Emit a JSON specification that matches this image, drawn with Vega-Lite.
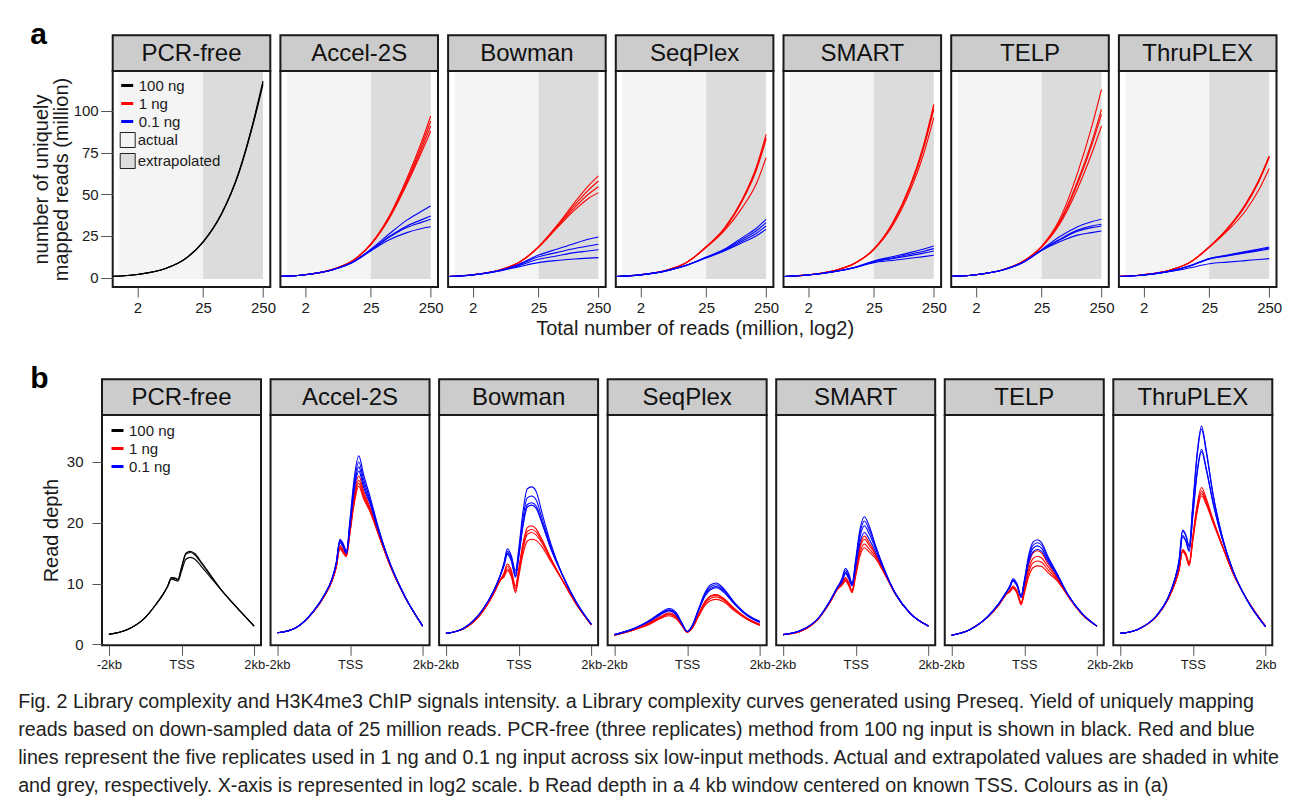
{
"$schema": "https://vega.github.io/schema/vega-lite/v6.json",
"background": "white",
"padding": {"left": 18, "top": 20, "right": 4, "bottom": 4},
"title": {"text": ["Fig. 2 Library complexity and H3K4me3 ChIP signals intensity. a Library complexity curves generated using Preseq. Yield of uniquely mapping", "reads based on down-sampled data of 25 million reads. PCR-free (three replicates) method from 100 ng input is shown in black. Red and blue", "lines represent the five replicates used in 1 ng and 0.1 ng input across six low-input methods. Actual and extrapolated values are shaded in white", "and grey, respectively. X-axis is represented in log2 scale. b Read depth in a 4 kb window centered on known TSS. Colours as in (a)"], "orient": "bottom", "anchor": "start", "frame": "bounds", "dx": -12, "offset": 20, "fontSize": 19.7, "fontWeight": "normal", "lineHeight": 28, "color": "#222", "font": "Liberation Sans"},
"spacing": 25,
"vconcat": [
{
"title": {"text": "a", "anchor": "start", "frame": "bounds", "fontSize": 30, "fontWeight": "bold", "offset": -17, "color": "#000"},
"bounds": "flush",
"spacing": 9.7,
"resolve": {"scale": {"color": "independent", "fill": "independent"}, "legend": {"color": "independent", "fill": "independent"}},
"hconcat": [
{"width": 0.01, "height": 216, "view": {"stroke": null}, "data": {"values": []}, "mark": "point"},
{"width": 157.6, "height": 216, "layer": [
 {"data": {"values": [{"g": "100"}, {"g": "1"}, {"g": "0.1"}]}, "mark": {"type": "rule"},
  "encoding": {"x": {"datum": 16, "type": "quantitative", "scale": {"type": "log", "base": 2, "domain": [0.774, 331], "nice": false}, "axis": {"title": null}}, "x2": {"datum": 16}, "y": {"datum": 50, "type": "quantitative", "scale": {"domain": [-5.64, 124], "nice": false, "zero": false}, "axis": {"title": ["number of uniquely", "mapped reads (million)"]}}, "y2": {"datum": 50},
   "color": {"field": "g", "type": "nominal", "scale": {"domain": ["100", "1", "0.1"], "range": ["#000000", "#ff0000", "#0000ff"]}, "legend": {"title": null, "orient": "top-left", "offset": 7, "symbolType": "stroke", "symbolSize": 144, "symbolStrokeWidth": 3, "labelExpr": "datum.label + ' ng'", "labelFontSize": 15, "rowPadding": 2, "labelOffset": 4}}}},
 {"data": {"values": [{"region": "actual", "a": 1, "b": 25}, {"region": "extrapolated", "a": 25, "b": 250}]}, "mark": "rect",
  "encoding": {"x": {"field": "a", "type": "quantitative", "scale": {"type": "log", "base": 2, "domain": [0.774, 331], "nice": false}, "axis": {"title": null}}, "x2": {"field": "b"}, "y": {"datum": -0.8, "type": "quantitative", "scale": {"domain": [-5.64, 124], "nice": false, "zero": false}, "axis": {"title": ["number of uniquely", "mapped reads (million)"]}}, "y2": {"datum": 124}, "fill": {"field": "region", "type": "nominal", "scale": {"domain": ["actual", "extrapolated"], "range": ["#f4f4f4", "#dcdcdc"]}, "legend": {"title": null, "orient": "top-left", "offset": 7, "symbolType": "square", "symbolSize": 225, "symbolStrokeColor": "#222", "symbolStrokeWidth": 1, "labelFontSize": 15, "rowPadding": 1, "labelOffset": 2}}}},
 {"data": {"values": [{"t": "PCR-free"}]}, "mark": {"type": "rect", "fill": "#cccccc", "stroke": "#1a1a1a", "strokeWidth": 2},
  "encoding": {"x": {"datum": 0.774, "type": "quantitative", "scale": {"type": "log", "base": 2, "domain": [0.774, 331], "nice": false}, "axis": {"title": null}}, "x2": {"datum": 331}, "y": {"datum": 124, "type": "quantitative", "scale": {"domain": [-5.64, 124], "nice": false, "zero": false}, "axis": {"title": ["number of uniquely", "mapped reads (million)"]}}, "y2": {"datum": 145.4}}},
 {"data": {"values": [{"t": "PCR-free"}]}, "mark": {"type": "text", "fontSize": 24, "baseline": "middle", "color": "#111"},
  "encoding": {"x": {"datum": 16, "type": "quantitative", "scale": {"type": "log", "base": 2, "domain": [0.774, 331], "nice": false}, "axis": {"title": null}}, "y": {"datum": 134.4, "type": "quantitative", "scale": {"domain": [-5.64, 124], "nice": false, "zero": false}, "axis": {"title": ["number of uniquely", "mapped reads (million)"]}}, "text": {"field": "t"}}},
 {"data": {"values": "g,r,x,y\n100,1,0.8,0.76\n100,1,2,1.9\n100,1,6,5.6\n100,1,12,10.8\n100,1,25,21.5\n100,1,50,38\n100,1,100,64\n100,1,170,93\n100,1,250,118\n100,2,0.8,0.76\n100,2,2,1.9\n100,2,6,5.6\n100,2,12,10.8\n100,2,25,21.4\n100,2,50,37.8\n100,2,100,63.6\n100,2,170,92.3\n100,2,250,117\n100,3,0.8,0.75\n100,3,2,1.9\n100,3,6,5.5\n100,3,12,10.7\n100,3,25,21.3\n100,3,50,37.6\n100,3,100,63.2\n100,3,170,91.6\n100,3,250,116", "format": {"type": "csv", "parse": {"x": "number", "y": "number"}}},
  "mark": {"type": "line", "strokeWidth": 1.1, "interpolate": "monotone"},
  "encoding": {"x": {"field": "x", "type": "quantitative", "scale": {"type": "log", "base": 2, "domain": [0.774, 331], "nice": false}, "axis": {"values": [2, 25, 250], "format": "d", "title": null, "tickSize": 10, "labelPadding": 3}},
   "y": {"field": "y", "type": "quantitative", "scale": {"domain": [-5.64, 124], "nice": false, "zero": false}, "axis": {"values": [0, 25, 50, 75, 100], "title": ["number of uniquely", "mapped reads (million)"], "tickSize": 12, "labelPadding": 2.5, "titlePadding": 2, "titleLineHeight": 20}},
   "color": {"field": "g", "type": "nominal", "scale": {"domain": ["100", "1", "0.1"], "range": ["#000000", "#ff0000", "#0000ff"]}},
   "detail": {"field": "r"}}}
]},
{"width": 157.6, "height": 216, "layer": [
 {"data": {"values": [{"region": "actual", "a": 1, "b": 25}, {"region": "extrapolated", "a": 25, "b": 250}]}, "mark": "rect",
  "encoding": {"x": {"field": "a", "type": "quantitative", "scale": {"type": "log", "base": 2, "domain": [0.774, 331], "nice": false}, "axis": {"title": null}}, "x2": {"field": "b"}, "y": {"datum": -0.8, "type": "quantitative", "scale": {"domain": [-5.64, 124], "nice": false, "zero": false}, "axis": null}, "y2": {"datum": 124}, "fill": {"field": "region", "type": "nominal", "scale": {"domain": ["actual", "extrapolated"], "range": ["#f4f4f4", "#dcdcdc"]}, "legend": null}}},
 {"data": {"values": [{"t": "Accel-2S"}]}, "mark": {"type": "rect", "fill": "#cccccc", "stroke": "#1a1a1a", "strokeWidth": 2},
  "encoding": {"x": {"datum": 0.774, "type": "quantitative", "scale": {"type": "log", "base": 2, "domain": [0.774, 331], "nice": false}, "axis": {"title": null}}, "x2": {"datum": 331}, "y": {"datum": 124, "type": "quantitative", "scale": {"domain": [-5.64, 124], "nice": false, "zero": false}, "axis": null}, "y2": {"datum": 145.4}}},
 {"data": {"values": [{"t": "Accel-2S"}]}, "mark": {"type": "text", "fontSize": 24, "baseline": "middle", "color": "#111"},
  "encoding": {"x": {"datum": 16, "type": "quantitative", "scale": {"type": "log", "base": 2, "domain": [0.774, 331], "nice": false}, "axis": {"title": null}}, "y": {"datum": 134.4, "type": "quantitative", "scale": {"domain": [-5.64, 124], "nice": false, "zero": false}, "axis": null}, "text": {"field": "t"}}},
 {"data": {"values": "g,r,x,y\n1,1,0.8,0.72\n1,1,2,1.75\n1,1,6,5.1\n1,1,12,9.8\n1,1,25,20.2\n1,1,50,36.5\n1,1,100,59.5\n1,1,170,80\n1,1,250,97\n1,2,0.8,0.72\n1,2,2,1.75\n1,2,6,5.1\n1,2,12,9.8\n1,2,25,20\n1,2,50,36\n1,2,100,58\n1,2,170,78\n1,2,250,94\n1,3,0.8,0.72\n1,3,2,1.75\n1,3,6,5.1\n1,3,12,9.8\n1,3,25,19.9\n1,3,50,35.5\n1,3,100,57\n1,3,170,76\n1,3,250,91\n1,4,0.8,0.72\n1,4,2,1.75\n1,4,6,5.1\n1,4,12,9.7\n1,4,25,19.7\n1,4,50,35\n1,4,100,56\n1,4,170,74\n1,4,250,88\n0.1,1,0.8,0.72\n0.1,1,2,1.72\n0.1,1,6,4.9\n0.1,1,12,9\n0.1,1,25,17\n0.1,1,50,26\n0.1,1,100,34.5\n0.1,1,170,39.5\n0.1,1,250,43\n0.1,2,0.8,0.72\n0.1,2,2,1.72\n0.1,2,6,4.9\n0.1,2,12,9\n0.1,2,25,16.6\n0.1,2,50,24.5\n0.1,2,100,31\n0.1,2,170,34.5\n0.1,2,250,37\n0.1,3,0.8,0.72\n0.1,3,2,1.72\n0.1,3,6,4.9\n0.1,3,12,8.9\n0.1,3,25,16.4\n0.1,3,50,24\n0.1,3,100,30\n0.1,3,170,33\n0.1,3,250,35\n0.1,4,0.8,0.72\n0.1,4,2,1.72\n0.1,4,6,4.9\n0.1,4,12,8.8\n0.1,4,25,16\n0.1,4,50,22.5\n0.1,4,100,27\n0.1,4,170,29.3\n0.1,4,250,30.5", "format": {"type": "csv", "parse": {"x": "number", "y": "number"}}},
  "mark": {"type": "line", "strokeWidth": 1.1, "interpolate": "monotone"},
  "encoding": {"x": {"field": "x", "type": "quantitative", "scale": {"type": "log", "base": 2, "domain": [0.774, 331], "nice": false}, "axis": {"values": [2, 25, 250], "format": "d", "title": null, "tickSize": 10, "labelPadding": 3}},
   "y": {"field": "y", "type": "quantitative", "scale": {"domain": [-5.64, 124], "nice": false, "zero": false}, "axis": null},
   "color": {"field": "g", "type": "nominal", "scale": {"domain": ["100", "1", "0.1"], "range": ["#000000", "#ff0000", "#0000ff"]}, "legend": null},
   "detail": {"field": "r"}}}
]},
{"width": 157.6, "height": 216, "layer": [
 {"data": {"values": [{"region": "actual", "a": 1, "b": 25}, {"region": "extrapolated", "a": 25, "b": 250}]}, "mark": "rect",
  "encoding": {"x": {"field": "a", "type": "quantitative", "scale": {"type": "log", "base": 2, "domain": [0.774, 331], "nice": false}, "axis": {"title": null}}, "x2": {"field": "b"}, "y": {"datum": -0.8, "type": "quantitative", "scale": {"domain": [-5.64, 124], "nice": false, "zero": false}, "axis": null}, "y2": {"datum": 124}, "fill": {"field": "region", "type": "nominal", "scale": {"domain": ["actual", "extrapolated"], "range": ["#f4f4f4", "#dcdcdc"]}, "legend": null}}},
 {"data": {"values": [{"t": "Bowman"}]}, "mark": {"type": "rect", "fill": "#cccccc", "stroke": "#1a1a1a", "strokeWidth": 2},
  "encoding": {"x": {"datum": 0.774, "type": "quantitative", "scale": {"type": "log", "base": 2, "domain": [0.774, 331], "nice": false}, "axis": {"title": null}}, "x2": {"datum": 331}, "y": {"datum": 124, "type": "quantitative", "scale": {"domain": [-5.64, 124], "nice": false, "zero": false}, "axis": null}, "y2": {"datum": 145.4}}},
 {"data": {"values": [{"t": "Bowman"}]}, "mark": {"type": "text", "fontSize": 24, "baseline": "middle", "color": "#111"},
  "encoding": {"x": {"datum": 16, "type": "quantitative", "scale": {"type": "log", "base": 2, "domain": [0.774, 331], "nice": false}, "axis": {"title": null}}, "y": {"datum": 134.4, "type": "quantitative", "scale": {"domain": [-5.64, 124], "nice": false, "zero": false}, "axis": null}, "text": {"field": "t"}}},
 {"data": {"values": "g,r,x,y\n1,1,0.8,0.7\n1,1,2,1.7\n1,1,6,4.9\n1,1,12,9.3\n1,1,25,18.6\n1,1,50,31\n1,1,100,45\n1,1,170,55\n1,1,250,61\n1,2,0.8,0.7\n1,2,2,1.7\n1,2,6,4.9\n1,2,12,9.3\n1,2,25,18.4\n1,2,50,30.5\n1,2,100,43.5\n1,2,170,52.5\n1,2,250,58\n1,3,0.8,0.7\n1,3,2,1.7\n1,3,6,4.9\n1,3,12,9.2\n1,3,25,18.3\n1,3,50,30\n1,3,100,42\n1,3,170,50\n1,3,250,54.5\n1,4,0.8,0.7\n1,4,2,1.7\n1,4,6,4.9\n1,4,12,9.2\n1,4,25,18.1\n1,4,50,29.5\n1,4,100,40.5\n1,4,170,47.5\n1,4,250,51\n0.1,1,0.8,0.7\n0.1,1,2,1.65\n0.1,1,6,4.6\n0.1,1,12,8.2\n0.1,1,25,13.5\n0.1,1,50,17\n0.1,1,100,20.5\n0.1,1,170,23\n0.1,1,250,24.4\n0.1,2,0.8,0.7\n0.1,2,2,1.65\n0.1,2,6,4.5\n0.1,2,12,7.8\n0.1,2,25,12.5\n0.1,2,50,15\n0.1,2,100,17.5\n0.1,2,170,19\n0.1,2,250,20\n0.1,3,0.8,0.7\n0.1,3,2,1.6\n0.1,3,6,4.4\n0.1,3,12,7.3\n0.1,3,25,11\n0.1,3,50,13\n0.1,3,100,15\n0.1,3,170,16\n0.1,3,250,16.8\n0.1,4,0.8,0.7\n0.1,4,2,1.6\n0.1,4,6,4.2\n0.1,4,12,6.6\n0.1,4,25,9\n0.1,4,50,10.3\n0.1,4,100,11.2\n0.1,4,170,11.7\n0.1,4,250,12", "format": {"type": "csv", "parse": {"x": "number", "y": "number"}}},
  "mark": {"type": "line", "strokeWidth": 1.1, "interpolate": "monotone"},
  "encoding": {"x": {"field": "x", "type": "quantitative", "scale": {"type": "log", "base": 2, "domain": [0.774, 331], "nice": false}, "axis": {"values": [2, 25, 250], "format": "d", "title": null, "tickSize": 10, "labelPadding": 3}},
   "y": {"field": "y", "type": "quantitative", "scale": {"domain": [-5.64, 124], "nice": false, "zero": false}, "axis": null},
   "color": {"field": "g", "type": "nominal", "scale": {"domain": ["100", "1", "0.1"], "range": ["#000000", "#ff0000", "#0000ff"]}, "legend": null},
   "detail": {"field": "r"}}}
]},
{"width": 157.6, "height": 216, "layer": [
 {"data": {"values": [{"region": "actual", "a": 1, "b": 25}, {"region": "extrapolated", "a": 25, "b": 250}]}, "mark": "rect",
  "encoding": {"x": {"field": "a", "type": "quantitative", "scale": {"type": "log", "base": 2, "domain": [0.774, 331], "nice": false}, "axis": {"title": "Total number of reads (million, log2)"}}, "x2": {"field": "b"}, "y": {"datum": -0.8, "type": "quantitative", "scale": {"domain": [-5.64, 124], "nice": false, "zero": false}, "axis": null}, "y2": {"datum": 124}, "fill": {"field": "region", "type": "nominal", "scale": {"domain": ["actual", "extrapolated"], "range": ["#f4f4f4", "#dcdcdc"]}, "legend": null}}},
 {"data": {"values": [{"t": "SeqPlex"}]}, "mark": {"type": "rect", "fill": "#cccccc", "stroke": "#1a1a1a", "strokeWidth": 2},
  "encoding": {"x": {"datum": 0.774, "type": "quantitative", "scale": {"type": "log", "base": 2, "domain": [0.774, 331], "nice": false}, "axis": {"title": "Total number of reads (million, log2)"}}, "x2": {"datum": 331}, "y": {"datum": 124, "type": "quantitative", "scale": {"domain": [-5.64, 124], "nice": false, "zero": false}, "axis": null}, "y2": {"datum": 145.4}}},
 {"data": {"values": [{"t": "SeqPlex"}]}, "mark": {"type": "text", "fontSize": 24, "baseline": "middle", "color": "#111"},
  "encoding": {"x": {"datum": 16, "type": "quantitative", "scale": {"type": "log", "base": 2, "domain": [0.774, 331], "nice": false}, "axis": {"title": "Total number of reads (million, log2)"}}, "y": {"datum": 134.4, "type": "quantitative", "scale": {"domain": [-5.64, 124], "nice": false, "zero": false}, "axis": null}, "text": {"field": "t"}}},
 {"data": {"values": "g,r,x,y\n1,1,0.8,0.7\n1,1,2,1.7\n1,1,6,4.9\n1,1,12,9.3\n1,1,25,18.5\n1,1,50,29.5\n1,1,100,47\n1,1,170,66\n1,1,250,86\n1,2,0.8,0.7\n1,2,2,1.7\n1,2,6,4.9\n1,2,12,9.3\n1,2,25,18.4\n1,2,50,29.2\n1,2,100,46.5\n1,2,170,65\n1,2,250,84\n1,3,0.8,0.7\n1,3,2,1.7\n1,3,6,4.9\n1,3,12,9.3\n1,3,25,18.4\n1,3,50,29\n1,3,100,46\n1,3,170,64\n1,3,250,83\n1,4,0.8,0.7\n1,4,2,1.7\n1,4,6,4.9\n1,4,12,9.2\n1,4,25,18.1\n1,4,50,28\n1,4,100,42\n1,4,170,56\n1,4,250,72\n0.1,1,0.8,0.7\n0.1,1,2,1.65\n0.1,1,6,4.5\n0.1,1,12,7.6\n0.1,1,25,12.3\n0.1,1,50,17\n0.1,1,100,24\n0.1,1,170,29.5\n0.1,1,250,35\n0.1,2,0.8,0.7\n0.1,2,2,1.65\n0.1,2,6,4.5\n0.1,2,12,7.6\n0.1,2,25,12.1\n0.1,2,50,16.6\n0.1,2,100,23\n0.1,2,170,28\n0.1,2,250,33\n0.1,3,0.8,0.7\n0.1,3,2,1.65\n0.1,3,6,4.5\n0.1,3,12,7.5\n0.1,3,25,12\n0.1,3,50,16.3\n0.1,3,100,22\n0.1,3,170,26.5\n0.1,3,250,31\n0.1,4,0.8,0.7\n0.1,4,2,1.65\n0.1,4,6,4.5\n0.1,4,12,7.5\n0.1,4,25,11.8\n0.1,4,50,16\n0.1,4,100,21\n0.1,4,170,25\n0.1,4,250,29", "format": {"type": "csv", "parse": {"x": "number", "y": "number"}}},
  "mark": {"type": "line", "strokeWidth": 1.1, "interpolate": "monotone"},
  "encoding": {"x": {"field": "x", "type": "quantitative", "scale": {"type": "log", "base": 2, "domain": [0.774, 331], "nice": false}, "axis": {"values": [2, 25, 250], "format": "d", "title": "Total number of reads (million, log2)", "titlePadding": 3, "tickSize": 10, "labelPadding": 3}},
   "y": {"field": "y", "type": "quantitative", "scale": {"domain": [-5.64, 124], "nice": false, "zero": false}, "axis": null},
   "color": {"field": "g", "type": "nominal", "scale": {"domain": ["100", "1", "0.1"], "range": ["#000000", "#ff0000", "#0000ff"]}, "legend": null},
   "detail": {"field": "r"}}}
]},
{"width": 157.6, "height": 216, "layer": [
 {"data": {"values": [{"region": "actual", "a": 1, "b": 25}, {"region": "extrapolated", "a": 25, "b": 250}]}, "mark": "rect",
  "encoding": {"x": {"field": "a", "type": "quantitative", "scale": {"type": "log", "base": 2, "domain": [0.774, 331], "nice": false}, "axis": {"title": null}}, "x2": {"field": "b"}, "y": {"datum": -0.8, "type": "quantitative", "scale": {"domain": [-5.64, 124], "nice": false, "zero": false}, "axis": null}, "y2": {"datum": 124}, "fill": {"field": "region", "type": "nominal", "scale": {"domain": ["actual", "extrapolated"], "range": ["#f4f4f4", "#dcdcdc"]}, "legend": null}}},
 {"data": {"values": [{"t": "SMART"}]}, "mark": {"type": "rect", "fill": "#cccccc", "stroke": "#1a1a1a", "strokeWidth": 2},
  "encoding": {"x": {"datum": 0.774, "type": "quantitative", "scale": {"type": "log", "base": 2, "domain": [0.774, 331], "nice": false}, "axis": {"title": null}}, "x2": {"datum": 331}, "y": {"datum": 124, "type": "quantitative", "scale": {"domain": [-5.64, 124], "nice": false, "zero": false}, "axis": null}, "y2": {"datum": 145.4}}},
 {"data": {"values": [{"t": "SMART"}]}, "mark": {"type": "text", "fontSize": 24, "baseline": "middle", "color": "#111"},
  "encoding": {"x": {"datum": 16, "type": "quantitative", "scale": {"type": "log", "base": 2, "domain": [0.774, 331], "nice": false}, "axis": {"title": null}}, "y": {"datum": 134.4, "type": "quantitative", "scale": {"domain": [-5.64, 124], "nice": false, "zero": false}, "axis": null}, "text": {"field": "t"}}},
 {"data": {"values": "g,r,x,y\n1,1,0.8,0.7\n1,1,2,1.65\n1,1,6,4.6\n1,1,12,8.6\n1,1,25,17.2\n1,1,50,32\n1,1,100,55\n1,1,170,80\n1,1,250,104\n1,2,0.8,0.7\n1,2,2,1.65\n1,2,6,4.6\n1,2,12,8.6\n1,2,25,17.1\n1,2,50,32\n1,2,100,54.5\n1,2,170,79\n1,2,250,103\n1,3,0.8,0.7\n1,3,2,1.65\n1,3,6,4.6\n1,3,12,8.6\n1,3,25,17\n1,3,50,31.5\n1,3,100,54\n1,3,170,78\n1,3,250,101\n1,4,0.8,0.7\n1,4,2,1.65\n1,4,6,4.6\n1,4,12,8.5\n1,4,25,16.8\n1,4,50,30.5\n1,4,100,52\n1,4,170,74.5\n1,4,250,96\n0.1,1,0.8,0.68\n0.1,1,2,1.55\n0.1,1,6,3.9\n0.1,1,12,6.2\n0.1,1,25,10\n0.1,1,50,12.5\n0.1,1,100,15\n0.1,1,170,17.2\n0.1,1,250,19\n0.1,2,0.8,0.68\n0.1,2,2,1.55\n0.1,2,6,3.9\n0.1,2,12,6.1\n0.1,2,25,9.7\n0.1,2,50,11.8\n0.1,2,100,14\n0.1,2,170,15.8\n0.1,2,250,17.4\n0.1,3,0.8,0.68\n0.1,3,2,1.55\n0.1,3,6,3.9\n0.1,3,12,6.1\n0.1,3,25,9.5\n0.1,3,50,11.3\n0.1,3,100,13.2\n0.1,3,170,14.7\n0.1,3,250,16\n0.1,4,0.8,0.68\n0.1,4,2,1.55\n0.1,4,6,3.8\n0.1,4,12,6\n0.1,4,25,9\n0.1,4,50,10.3\n0.1,4,100,11.6\n0.1,4,170,12.6\n0.1,4,250,13.4", "format": {"type": "csv", "parse": {"x": "number", "y": "number"}}},
  "mark": {"type": "line", "strokeWidth": 1.1, "interpolate": "monotone"},
  "encoding": {"x": {"field": "x", "type": "quantitative", "scale": {"type": "log", "base": 2, "domain": [0.774, 331], "nice": false}, "axis": {"values": [2, 25, 250], "format": "d", "title": null, "tickSize": 10, "labelPadding": 3}},
   "y": {"field": "y", "type": "quantitative", "scale": {"domain": [-5.64, 124], "nice": false, "zero": false}, "axis": null},
   "color": {"field": "g", "type": "nominal", "scale": {"domain": ["100", "1", "0.1"], "range": ["#000000", "#ff0000", "#0000ff"]}, "legend": null},
   "detail": {"field": "r"}}}
]},
{"width": 157.6, "height": 216, "layer": [
 {"data": {"values": [{"region": "actual", "a": 1, "b": 25}, {"region": "extrapolated", "a": 25, "b": 250}]}, "mark": "rect",
  "encoding": {"x": {"field": "a", "type": "quantitative", "scale": {"type": "log", "base": 2, "domain": [0.774, 331], "nice": false}, "axis": {"title": null}}, "x2": {"field": "b"}, "y": {"datum": -0.8, "type": "quantitative", "scale": {"domain": [-5.64, 124], "nice": false, "zero": false}, "axis": null}, "y2": {"datum": 124}, "fill": {"field": "region", "type": "nominal", "scale": {"domain": ["actual", "extrapolated"], "range": ["#f4f4f4", "#dcdcdc"]}, "legend": null}}},
 {"data": {"values": [{"t": "TELP"}]}, "mark": {"type": "rect", "fill": "#cccccc", "stroke": "#1a1a1a", "strokeWidth": 2},
  "encoding": {"x": {"datum": 0.774, "type": "quantitative", "scale": {"type": "log", "base": 2, "domain": [0.774, 331], "nice": false}, "axis": {"title": null}}, "x2": {"datum": 331}, "y": {"datum": 124, "type": "quantitative", "scale": {"domain": [-5.64, 124], "nice": false, "zero": false}, "axis": null}, "y2": {"datum": 145.4}}},
 {"data": {"values": [{"t": "TELP"}]}, "mark": {"type": "text", "fontSize": 24, "baseline": "middle", "color": "#111"},
  "encoding": {"x": {"datum": 16, "type": "quantitative", "scale": {"type": "log", "base": 2, "domain": [0.774, 331], "nice": false}, "axis": {"title": null}}, "y": {"datum": 134.4, "type": "quantitative", "scale": {"domain": [-5.64, 124], "nice": false, "zero": false}, "axis": null}, "text": {"field": "t"}}},
 {"data": {"values": "g,r,x,y\n1,1,0.8,0.72\n1,1,2,1.75\n1,1,6,5\n1,1,12,9.6\n1,1,25,18.8\n1,1,50,35\n1,1,100,63\n1,1,170,90\n1,1,250,113\n1,2,0.8,0.72\n1,2,2,1.75\n1,2,6,5\n1,2,12,9.6\n1,2,25,18.6\n1,2,50,33.5\n1,2,100,58\n1,2,170,81\n1,2,250,101\n1,3,0.8,0.72\n1,3,2,1.75\n1,3,6,5\n1,3,12,9.6\n1,3,25,18.5\n1,3,50,33\n1,3,100,56.5\n1,3,170,79\n1,3,250,98\n1,4,0.8,0.72\n1,4,2,1.75\n1,4,6,5\n1,4,12,9.5\n1,4,25,18.3\n1,4,50,32\n1,4,100,53.5\n1,4,170,74\n1,4,250,91\n0.1,1,0.8,0.72\n0.1,1,2,1.72\n0.1,1,6,4.9\n0.1,1,12,9\n0.1,1,25,16.8\n0.1,1,50,24.5\n0.1,1,100,30.5\n0.1,1,170,33.5\n0.1,1,250,35\n0.1,2,0.8,0.72\n0.1,2,2,1.72\n0.1,2,6,4.9\n0.1,2,12,9\n0.1,2,25,16.5\n0.1,2,50,23\n0.1,2,100,28.5\n0.1,2,170,31\n0.1,2,250,32\n0.1,3,0.8,0.72\n0.1,3,2,1.72\n0.1,3,6,4.9\n0.1,3,12,8.9\n0.1,3,25,16.4\n0.1,3,50,22.5\n0.1,3,100,27.8\n0.1,3,170,30\n0.1,3,250,31\n0.1,4,0.8,0.72\n0.1,4,2,1.72\n0.1,4,6,4.9\n0.1,4,12,8.9\n0.1,4,25,16.2\n0.1,4,50,21.5\n0.1,4,100,25.5\n0.1,4,170,27\n0.1,4,250,28", "format": {"type": "csv", "parse": {"x": "number", "y": "number"}}},
  "mark": {"type": "line", "strokeWidth": 1.1, "interpolate": "monotone"},
  "encoding": {"x": {"field": "x", "type": "quantitative", "scale": {"type": "log", "base": 2, "domain": [0.774, 331], "nice": false}, "axis": {"values": [2, 25, 250], "format": "d", "title": null, "tickSize": 10, "labelPadding": 3}},
   "y": {"field": "y", "type": "quantitative", "scale": {"domain": [-5.64, 124], "nice": false, "zero": false}, "axis": null},
   "color": {"field": "g", "type": "nominal", "scale": {"domain": ["100", "1", "0.1"], "range": ["#000000", "#ff0000", "#0000ff"]}, "legend": null},
   "detail": {"field": "r"}}}
]},
{"width": 157.6, "height": 216, "layer": [
 {"data": {"values": [{"region": "actual", "a": 1, "b": 25}, {"region": "extrapolated", "a": 25, "b": 250}]}, "mark": "rect",
  "encoding": {"x": {"field": "a", "type": "quantitative", "scale": {"type": "log", "base": 2, "domain": [0.774, 331], "nice": false}, "axis": {"title": null}}, "x2": {"field": "b"}, "y": {"datum": -0.8, "type": "quantitative", "scale": {"domain": [-5.64, 124], "nice": false, "zero": false}, "axis": null}, "y2": {"datum": 124}, "fill": {"field": "region", "type": "nominal", "scale": {"domain": ["actual", "extrapolated"], "range": ["#f4f4f4", "#dcdcdc"]}, "legend": null}}},
 {"data": {"values": [{"t": "ThruPLEX"}]}, "mark": {"type": "rect", "fill": "#cccccc", "stroke": "#1a1a1a", "strokeWidth": 2},
  "encoding": {"x": {"datum": 0.774, "type": "quantitative", "scale": {"type": "log", "base": 2, "domain": [0.774, 331], "nice": false}, "axis": {"title": null}}, "x2": {"datum": 331}, "y": {"datum": 124, "type": "quantitative", "scale": {"domain": [-5.64, 124], "nice": false, "zero": false}, "axis": null}, "y2": {"datum": 145.4}}},
 {"data": {"values": [{"t": "ThruPLEX"}]}, "mark": {"type": "text", "fontSize": 24, "baseline": "middle", "color": "#111"},
  "encoding": {"x": {"datum": 16, "type": "quantitative", "scale": {"type": "log", "base": 2, "domain": [0.774, 331], "nice": false}, "axis": {"title": null}}, "y": {"datum": 134.4, "type": "quantitative", "scale": {"domain": [-5.64, 124], "nice": false, "zero": false}, "axis": null}, "text": {"field": "t"}}},
 {"data": {"values": "g,r,x,y\n1,1,0.8,0.72\n1,1,2,1.72\n1,1,6,4.9\n1,1,12,9.3\n1,1,25,18.5\n1,1,50,29.5\n1,1,100,44\n1,1,170,59\n1,1,250,73\n1,2,0.8,0.72\n1,2,2,1.72\n1,2,6,4.9\n1,2,12,9.3\n1,2,25,18.4\n1,2,50,29.2\n1,2,100,43.5\n1,2,170,58.5\n1,2,250,72.5\n1,3,0.8,0.72\n1,3,2,1.72\n1,3,6,4.9\n1,3,12,9.3\n1,3,25,18.4\n1,3,50,29\n1,3,100,43\n1,3,170,58\n1,3,250,72\n1,4,0.8,0.72\n1,4,2,1.72\n1,4,6,4.9\n1,4,12,9.2\n1,4,25,18.2\n1,4,50,28\n1,4,100,40\n1,4,170,53\n1,4,250,65.5\n0.1,1,0.8,0.7\n0.1,1,2,1.6\n0.1,1,6,4.2\n0.1,1,12,7.2\n0.1,1,25,11.5\n0.1,1,50,13.6\n0.1,1,100,15.6\n0.1,1,170,17.2\n0.1,1,250,18.4\n0.1,2,0.8,0.7\n0.1,2,2,1.6\n0.1,2,6,4.2\n0.1,2,12,7.1\n0.1,2,25,11.3\n0.1,2,50,13.3\n0.1,2,100,15.2\n0.1,2,170,16.7\n0.1,2,250,17.8\n0.1,3,0.8,0.7\n0.1,3,2,1.6\n0.1,3,6,4.2\n0.1,3,12,7\n0.1,3,25,11.1\n0.1,3,50,13\n0.1,3,100,14.8\n0.1,3,170,16.2\n0.1,3,250,17.2\n0.1,4,0.8,0.68\n0.1,4,2,1.55\n0.1,4,6,3.8\n0.1,4,12,5.9\n0.1,4,25,8.3\n0.1,4,50,9.3\n0.1,4,100,10.2\n0.1,4,170,10.9\n0.1,4,250,11.4", "format": {"type": "csv", "parse": {"x": "number", "y": "number"}}},
  "mark": {"type": "line", "strokeWidth": 1.1, "interpolate": "monotone"},
  "encoding": {"x": {"field": "x", "type": "quantitative", "scale": {"type": "log", "base": 2, "domain": [0.774, 331], "nice": false}, "axis": {"values": [2, 25, 250], "format": "d", "title": null, "tickSize": 10, "labelPadding": 3}},
   "y": {"field": "y", "type": "quantitative", "scale": {"domain": [-5.64, 124], "nice": false, "zero": false}, "axis": null},
   "color": {"field": "g", "type": "nominal", "scale": {"domain": ["100", "1", "0.1"], "range": ["#000000", "#ff0000", "#0000ff"]}, "legend": null},
   "detail": {"field": "r"}}}
]}
]
},
{
"title": {"text": "b", "anchor": "start", "frame": "bounds", "fontSize": 30, "fontWeight": "bold", "offset": -17, "dx": -10, "color": "#000"},
"bounds": "flush",
"spacing": 9.55,
"resolve": {"scale": {"color": "independent"}, "legend": {"color": "independent"}},
"hconcat": [
{"width": 159, "height": 230.3, "layer": [
 {"data": {"values": [{"t": "PCR-free"}]}, "mark": {"type": "rect", "fill": "#cccccc", "stroke": "#1a1a1a", "strokeWidth": 2},
  "encoding": {"x": {"datum": -2188, "type": "quantitative", "scale": {"domain": [-2188, 2188], "nice": false, "zero": false}, "axis": {"title": null}}, "x2": {"datum": 2188}, "y": {"datum": 37.73, "type": "quantitative", "scale": {"domain": [-0.16, 37.73], "nice": false, "zero": false}, "axis": {"title": "Read depth"}}, "y2": {"datum": 43.6}}},
 {"data": {"values": [{"t": "PCR-free"}]}, "mark": {"type": "text", "fontSize": 24, "baseline": "middle", "color": "#111"},
  "encoding": {"x": {"datum": 0, "type": "quantitative", "scale": {"domain": [-2188, 2188], "nice": false, "zero": false}, "axis": {"title": null}}, "y": {"datum": 40.56, "type": "quantitative", "scale": {"domain": [-0.16, 37.73], "nice": false, "zero": false}, "axis": {"title": "Read depth"}}, "text": {"field": "t"}}},
 {"data": {"values": "g,r,x,y\n100,1,-2000,1.65\n100,1,-1500,2.4\n100,1,-1000,4.4\n100,1,-700,6.6\n100,1,-500,8.3\n100,1,-380,9.6\n100,1,-280,11\n100,1,-190,10.95\n100,1,-100,10.7\n100,1,0,12.7\n100,1,120,15\n100,1,240,15.3\n100,1,370,14.9\n100,1,550,13.5\n100,1,800,11.4\n100,1,1100,8.9\n100,1,1500,6.2\n100,1,2000,3\n100,2,-2000,1.65\n100,2,-1500,2.4\n100,2,-1000,4.4\n100,2,-700,6.6\n100,2,-500,8.3\n100,2,-380,9.6\n100,2,-280,10.9\n100,2,-190,10.85\n100,2,-100,10.6\n100,2,0,12.5\n100,2,120,14.8\n100,2,240,15.1\n100,2,370,14.7\n100,2,550,13.3\n100,2,800,11.3\n100,2,1100,8.9\n100,2,1500,6.2\n100,2,2000,3\n100,3,-2000,1.65\n100,3,-1500,2.4\n100,3,-1000,4.4\n100,3,-700,6.6\n100,3,-500,8.3\n100,3,-380,9.5\n100,3,-280,10.7\n100,3,-190,10.6\n100,3,-100,10.4\n100,3,0,12\n100,3,120,14\n100,3,240,14.3\n100,3,370,14\n100,3,550,12.8\n100,3,800,11\n100,3,1100,8.9\n100,3,1500,6.2\n100,3,2000,3", "format": {"type": "csv", "parse": {"x": "number", "y": "number"}}},
  "mark": {"type": "line", "strokeWidth": 1.1, "interpolate": "monotone"},
  "encoding": {"x": {"field": "x", "type": "quantitative", "scale": {"domain": [-2188, 2188], "nice": false, "zero": false}, "axis": {"values": [-2000, 0, 2000], "labelExpr": "datum.value == 0 ? 'TSS' : (datum.value < 0 ? '-2kb' : '2kb')", "title": null, "tickSize": 10, "labelPadding": 3, "labelFontSize": 13}},
   "y": {"field": "y", "type": "quantitative", "scale": {"domain": [-0.16, 37.73], "nice": false, "zero": false}, "axis": {"values": [0, 10, 20, 30], "title": "Read depth", "tickSize": 10, "labelPadding": 9, "titlePadding": 5}},
   "color": {"field": "g", "type": "nominal", "scale": {"domain": ["100", "1", "0.1"], "range": ["#000000", "#ff0000", "#0000ff"]}, "legend": {"title": null, "orient": "top-left", "offset": 8, "symbolType": "stroke", "symbolSize": 144, "symbolStrokeWidth": 3, "labelExpr": "datum.label + ' ng'", "labelFontSize": 15, "rowPadding": 2, "labelOffset": 4}},
   "detail": {"field": "r"}}}
]},
{"width": 159, "height": 230.3, "layer": [
 {"data": {"values": [{"t": "Accel-2S"}]}, "mark": {"type": "rect", "fill": "#cccccc", "stroke": "#1a1a1a", "strokeWidth": 2},
  "encoding": {"x": {"datum": -2188, "type": "quantitative", "scale": {"domain": [-2188, 2188], "nice": false, "zero": false}, "axis": {"title": null}}, "x2": {"datum": 2188}, "y": {"datum": 37.73, "type": "quantitative", "scale": {"domain": [-0.16, 37.73], "nice": false, "zero": false}, "axis": null}, "y2": {"datum": 43.6}}},
 {"data": {"values": [{"t": "Accel-2S"}]}, "mark": {"type": "text", "fontSize": 24, "baseline": "middle", "color": "#111"},
  "encoding": {"x": {"datum": 0, "type": "quantitative", "scale": {"domain": [-2188, 2188], "nice": false, "zero": false}, "axis": {"title": null}}, "y": {"datum": 40.56, "type": "quantitative", "scale": {"domain": [-0.16, 37.73], "nice": false, "zero": false}, "axis": null}, "text": {"field": "t"}}},
 {"data": {"values": "g,r,x,y\n1,1,-2000,1.9\n1,1,-1500,2.7\n1,1,-1000,5.4\n1,1,-700,8\n1,1,-500,10.4\n1,1,-380,12.9\n1,1,-280,16.3\n1,1,-190,15.6\n1,1,-100,14.9\n1,1,0,19.2\n1,1,120,24.8\n1,1,240,27.7\n1,1,370,25.3\n1,1,550,22.5\n1,1,800,18\n1,1,1100,13\n1,1,1500,7.9\n1,1,2000,3\n1,2,-2000,1.9\n1,2,-1500,2.7\n1,2,-1000,5.4\n1,2,-700,8\n1,2,-500,10.4\n1,2,-380,12.8\n1,2,-280,16.1\n1,2,-190,15.4\n1,2,-100,14.7\n1,2,0,18.9\n1,2,120,24.2\n1,2,240,27\n1,2,370,24.8\n1,2,550,22.2\n1,2,800,17.9\n1,2,1100,13\n1,2,1500,7.9\n1,2,2000,3\n1,3,-2000,1.9\n1,3,-1500,2.7\n1,3,-1000,5.4\n1,3,-700,8\n1,3,-500,10.4\n1,3,-380,12.7\n1,3,-280,15.9\n1,3,-190,15.2\n1,3,-100,14.6\n1,3,0,18.6\n1,3,120,23.8\n1,3,240,26.5\n1,3,370,24.4\n1,3,550,22\n1,3,800,17.8\n1,3,1100,13\n1,3,1500,7.9\n1,3,2000,3\n1,4,-2000,1.9\n1,4,-1500,2.7\n1,4,-1000,5.4\n1,4,-700,8\n1,4,-500,10.4\n1,4,-380,12.6\n1,4,-280,15.7\n1,4,-190,15\n1,4,-100,14.4\n1,4,0,18.3\n1,4,120,23.3\n1,4,240,26\n1,4,370,24\n1,4,550,21.8\n1,4,800,17.7\n1,4,1100,13\n1,4,1500,7.9\n1,4,2000,3\n0.1,1,-2000,1.9\n0.1,1,-1500,2.7\n0.1,1,-1000,5.5\n0.1,1,-700,8.2\n0.1,1,-500,10.7\n0.1,1,-380,13.5\n0.1,1,-280,17.3\n0.1,1,-190,16.6\n0.1,1,-100,15.4\n0.1,1,0,20.7\n0.1,1,120,27.6\n0.1,1,240,31\n0.1,1,370,28\n0.1,1,550,24.3\n0.1,1,800,18.8\n0.1,1,1100,13.3\n0.1,1,1500,8\n0.1,1,2000,3\n0.1,2,-2000,1.9\n0.1,2,-1500,2.7\n0.1,2,-1000,5.5\n0.1,2,-700,8.2\n0.1,2,-500,10.7\n0.1,2,-380,13.4\n0.1,2,-280,17.1\n0.1,2,-190,16.4\n0.1,2,-100,15.2\n0.1,2,0,20.2\n0.1,2,120,26.8\n0.1,2,240,30\n0.1,2,370,27.2\n0.1,2,550,23.8\n0.1,2,800,18.6\n0.1,2,1100,13.3\n0.1,2,1500,8\n0.1,2,2000,3\n0.1,3,-2000,1.9\n0.1,3,-1500,2.7\n0.1,3,-1000,5.5\n0.1,3,-700,8.2\n0.1,3,-500,10.7\n0.1,3,-380,13.3\n0.1,3,-280,16.9\n0.1,3,-190,16.2\n0.1,3,-100,15\n0.1,3,0,19.8\n0.1,3,120,26.1\n0.1,3,240,29.2\n0.1,3,370,26.5\n0.1,3,550,23.4\n0.1,3,800,18.4\n0.1,3,1100,13.3\n0.1,3,1500,8\n0.1,3,2000,3\n0.1,4,-2000,1.9\n0.1,4,-1500,2.7\n0.1,4,-1000,5.5\n0.1,4,-700,8.2\n0.1,4,-500,10.7\n0.1,4,-380,13.2\n0.1,4,-280,16.7\n0.1,4,-190,16\n0.1,4,-100,14.9\n0.1,4,0,19.5\n0.1,4,120,25.5\n0.1,4,240,28.5\n0.1,4,370,25.9\n0.1,4,550,23.1\n0.1,4,800,18.3\n0.1,4,1100,13.3\n0.1,4,1500,8\n0.1,4,2000,3", "format": {"type": "csv", "parse": {"x": "number", "y": "number"}}},
  "mark": {"type": "line", "strokeWidth": 1.1, "interpolate": "monotone"},
  "encoding": {"x": {"field": "x", "type": "quantitative", "scale": {"domain": [-2188, 2188], "nice": false, "zero": false}, "axis": {"values": [-2000, 0, 2000], "labelExpr": "datum.value == 0 ? 'TSS' : (datum.value < 0 ? '-2kb' : '2kb')", "title": null, "tickSize": 10, "labelPadding": 3, "labelFontSize": 13}},
   "y": {"field": "y", "type": "quantitative", "scale": {"domain": [-0.16, 37.73], "nice": false, "zero": false}, "axis": null},
   "color": {"field": "g", "type": "nominal", "scale": {"domain": ["100", "1", "0.1"], "range": ["#000000", "#ff0000", "#0000ff"]}, "legend": null},
   "detail": {"field": "r"}}}
]},
{"width": 159, "height": 230.3, "layer": [
 {"data": {"values": [{"t": "Bowman"}]}, "mark": {"type": "rect", "fill": "#cccccc", "stroke": "#1a1a1a", "strokeWidth": 2},
  "encoding": {"x": {"datum": -2188, "type": "quantitative", "scale": {"domain": [-2188, 2188], "nice": false, "zero": false}, "axis": {"title": null}}, "x2": {"datum": 2188}, "y": {"datum": 37.73, "type": "quantitative", "scale": {"domain": [-0.16, 37.73], "nice": false, "zero": false}, "axis": null}, "y2": {"datum": 43.6}}},
 {"data": {"values": [{"t": "Bowman"}]}, "mark": {"type": "text", "fontSize": 24, "baseline": "middle", "color": "#111"},
  "encoding": {"x": {"datum": 0, "type": "quantitative", "scale": {"domain": [-2188, 2188], "nice": false, "zero": false}, "axis": {"title": null}}, "y": {"datum": 40.56, "type": "quantitative", "scale": {"domain": [-0.16, 37.73], "nice": false, "zero": false}, "axis": null}, "text": {"field": "t"}}},
 {"data": {"values": "g,r,x,y\n1,1,-2000,1.8\n1,1,-1500,2.6\n1,1,-1000,5.3\n1,1,-700,8.2\n1,1,-500,10.6\n1,1,-400,11.8\n1,1,-310,13.2\n1,1,-200,12.2\n1,1,-85,9.6\n1,1,0,12.3\n1,1,120,16.6\n1,1,240,19.2\n1,1,360,19.5\n1,1,480,19\n1,1,650,17.2\n1,1,900,14\n1,1,1200,10.6\n1,1,1600,6.5\n1,1,2000,3.2\n1,2,-2000,1.8\n1,2,-1500,2.6\n1,2,-1000,5.3\n1,2,-700,8.2\n1,2,-500,10.6\n1,2,-400,11.5\n1,2,-310,12.8\n1,2,-200,11.8\n1,2,-85,9.2\n1,2,0,11.9\n1,2,120,16.1\n1,2,240,18.6\n1,2,360,18.9\n1,2,480,18.5\n1,2,650,16.9\n1,2,900,13.9\n1,2,1200,10.6\n1,2,1600,6.5\n1,2,2000,3.2\n1,3,-2000,1.8\n1,3,-1500,2.6\n1,3,-1000,5.3\n1,3,-700,8.2\n1,3,-500,10.6\n1,3,-400,11.3\n1,3,-310,12.4\n1,3,-200,11.4\n1,3,-85,8.8\n1,3,0,11.5\n1,3,120,15.6\n1,3,240,18.1\n1,3,360,18.4\n1,3,480,18\n1,3,650,16.6\n1,3,900,13.8\n1,3,1200,10.6\n1,3,1600,6.5\n1,3,2000,3.2\n1,4,-2000,1.8\n1,4,-1500,2.6\n1,4,-1000,5.3\n1,4,-700,8.2\n1,4,-500,10.6\n1,4,-400,11.1\n1,4,-310,12.1\n1,4,-200,11.1\n1,4,-85,8.5\n1,4,0,11\n1,4,120,14.8\n1,4,240,17\n1,4,360,17.3\n1,4,480,17.1\n1,4,650,16\n1,4,900,13.5\n1,4,1200,10.6\n1,4,1600,6.5\n1,4,2000,3.2\n0.1,1,-2000,1.8\n0.1,1,-1500,2.7\n0.1,1,-1000,5.6\n0.1,1,-700,8.6\n0.1,1,-500,11.4\n0.1,1,-400,13.5\n0.1,1,-310,15.7\n0.1,1,-200,14.6\n0.1,1,-85,12.1\n0.1,1,0,15.5\n0.1,1,120,21.8\n0.1,1,240,25.6\n0.1,1,360,25.9\n0.1,1,480,25.2\n0.1,1,650,21.5\n0.1,1,900,16.3\n0.1,1,1200,11.5\n0.1,1,1600,6.8\n0.1,1,2000,3.3\n0.1,2,-2000,1.8\n0.1,2,-1500,2.7\n0.1,2,-1000,5.6\n0.1,2,-700,8.6\n0.1,2,-500,11.4\n0.1,2,-400,13.3\n0.1,2,-310,15.3\n0.1,2,-200,14.2\n0.1,2,-85,11.7\n0.1,2,0,14.9\n0.1,2,120,20.7\n0.1,2,240,24.1\n0.1,2,360,24.4\n0.1,2,480,23.8\n0.1,2,650,20.6\n0.1,2,900,15.9\n0.1,2,1200,11.5\n0.1,2,1600,6.8\n0.1,2,2000,3.3\n0.1,3,-2000,1.8\n0.1,3,-1500,2.7\n0.1,3,-1000,5.6\n0.1,3,-700,8.6\n0.1,3,-500,11.4\n0.1,3,-400,13.1\n0.1,3,-310,15\n0.1,3,-200,13.9\n0.1,3,-85,11.3\n0.1,3,0,14.4\n0.1,3,120,19.8\n0.1,3,240,23\n0.1,3,360,23.3\n0.1,3,480,22.8\n0.1,3,650,20\n0.1,3,900,15.6\n0.1,3,1200,11.5\n0.1,3,1600,6.8\n0.1,3,2000,3.3\n0.1,4,-2000,1.8\n0.1,4,-1500,2.7\n0.1,4,-1000,5.6\n0.1,4,-700,8.6\n0.1,4,-500,11.4\n0.1,4,-400,12.9\n0.1,4,-310,14.8\n0.1,4,-200,13.7\n0.1,4,-85,11\n0.1,4,0,14.1\n0.1,4,120,19.4\n0.1,4,240,22.6\n0.1,4,360,22.9\n0.1,4,480,22.4\n0.1,4,650,19.8\n0.1,4,900,15.5\n0.1,4,1200,11.5\n0.1,4,1600,6.8\n0.1,4,2000,3.3", "format": {"type": "csv", "parse": {"x": "number", "y": "number"}}},
  "mark": {"type": "line", "strokeWidth": 1.1, "interpolate": "monotone"},
  "encoding": {"x": {"field": "x", "type": "quantitative", "scale": {"domain": [-2188, 2188], "nice": false, "zero": false}, "axis": {"values": [-2000, 0, 2000], "labelExpr": "datum.value == 0 ? 'TSS' : (datum.value < 0 ? '-2kb' : '2kb')", "title": null, "tickSize": 10, "labelPadding": 3, "labelFontSize": 13}},
   "y": {"field": "y", "type": "quantitative", "scale": {"domain": [-0.16, 37.73], "nice": false, "zero": false}, "axis": null},
   "color": {"field": "g", "type": "nominal", "scale": {"domain": ["100", "1", "0.1"], "range": ["#000000", "#ff0000", "#0000ff"]}, "legend": null},
   "detail": {"field": "r"}}}
]},
{"width": 159, "height": 230.3, "layer": [
 {"data": {"values": [{"t": "SeqPlex"}]}, "mark": {"type": "rect", "fill": "#cccccc", "stroke": "#1a1a1a", "strokeWidth": 2},
  "encoding": {"x": {"datum": -2188, "type": "quantitative", "scale": {"domain": [-2188, 2188], "nice": false, "zero": false}, "axis": {"title": null}}, "x2": {"datum": 2188}, "y": {"datum": 37.73, "type": "quantitative", "scale": {"domain": [-0.16, 37.73], "nice": false, "zero": false}, "axis": null}, "y2": {"datum": 43.6}}},
 {"data": {"values": [{"t": "SeqPlex"}]}, "mark": {"type": "text", "fontSize": 24, "baseline": "middle", "color": "#111"},
  "encoding": {"x": {"datum": 0, "type": "quantitative", "scale": {"domain": [-2188, 2188], "nice": false, "zero": false}, "axis": {"title": null}}, "y": {"datum": 40.56, "type": "quantitative", "scale": {"domain": [-0.16, 37.73], "nice": false, "zero": false}, "axis": null}, "text": {"field": "t"}}},
 {"data": {"values": "g,r,x,y\n1,1,-2000,1.5\n1,1,-1500,2.3\n1,1,-1000,3.7\n1,1,-750,4.5\n1,1,-500,5.2\n1,1,-300,4.6\n1,1,-150,3.3\n1,1,0,2\n1,1,150,2.9\n1,1,300,4.8\n1,1,500,7.1\n1,1,650,8\n1,1,800,8.2\n1,1,1000,7.6\n1,1,1300,5.9\n1,1,1650,4.3\n1,1,2000,3.3\n1,2,-2000,1.5\n1,2,-1500,2.3\n1,2,-1000,3.6\n1,2,-750,4.4\n1,2,-500,5\n1,2,-300,4.5\n1,2,-150,3.2\n1,2,0,2\n1,2,150,2.9\n1,2,300,4.7\n1,2,500,7\n1,2,650,7.9\n1,2,800,8.1\n1,2,1000,7.5\n1,2,1300,5.8\n1,2,1650,4.2\n1,2,2000,3.2\n1,3,-2000,1.5\n1,3,-1500,2.3\n1,3,-1000,3.5\n1,3,-750,4.3\n1,3,-500,4.9\n1,3,-300,4.4\n1,3,-150,3.2\n1,3,0,2\n1,3,150,2.8\n1,3,300,4.6\n1,3,500,6.8\n1,3,650,7.6\n1,3,800,7.8\n1,3,1000,7.3\n1,3,1300,5.7\n1,3,1650,4.2\n1,3,2000,3.2\n1,4,-2000,1.5\n1,4,-1500,2.3\n1,4,-1000,3.4\n1,4,-750,4.2\n1,4,-500,4.7\n1,4,-300,4.2\n1,4,-150,3.1\n1,4,0,2\n1,4,150,2.7\n1,4,300,4.4\n1,4,500,6.5\n1,4,650,7.2\n1,4,800,7.4\n1,4,1000,7\n1,4,1300,5.5\n1,4,1650,4.1\n1,4,2000,3.1\n0.1,1,-2000,1.6\n0.1,1,-1500,2.5\n0.1,1,-1000,4.1\n0.1,1,-750,5.1\n0.1,1,-500,5.9\n0.1,1,-300,5.2\n0.1,1,-150,3.6\n0.1,1,0,2.1\n0.1,1,150,3.2\n0.1,1,300,5.6\n0.1,1,500,8.6\n0.1,1,650,9.8\n0.1,1,800,10.1\n0.1,1,1000,9.2\n0.1,1,1300,6.9\n0.1,1,1650,4.9\n0.1,1,2000,3.8\n0.1,2,-2000,1.6\n0.1,2,-1500,2.5\n0.1,2,-1000,4\n0.1,2,-750,5\n0.1,2,-500,5.7\n0.1,2,-300,5\n0.1,2,-150,3.5\n0.1,2,0,2.1\n0.1,2,150,3.2\n0.1,2,300,5.5\n0.1,2,500,8.4\n0.1,2,650,9.5\n0.1,2,800,9.8\n0.1,2,1000,9\n0.1,2,1300,6.8\n0.1,2,1650,4.8\n0.1,2,2000,3.7\n0.1,3,-2000,1.6\n0.1,3,-1500,2.5\n0.1,3,-1000,3.9\n0.1,3,-750,4.9\n0.1,3,-500,5.6\n0.1,3,-300,4.9\n0.1,3,-150,3.5\n0.1,3,0,2.1\n0.1,3,150,3.1\n0.1,3,300,5.4\n0.1,3,500,8.2\n0.1,3,650,9.2\n0.1,3,800,9.5\n0.1,3,1000,8.8\n0.1,3,1300,6.7\n0.1,3,1650,4.8\n0.1,3,2000,3.7\n0.1,4,-2000,1.6\n0.1,4,-1500,2.5\n0.1,4,-1000,3.9\n0.1,4,-750,4.8\n0.1,4,-500,5.5\n0.1,4,-300,4.8\n0.1,4,-150,3.4\n0.1,4,0,2.1\n0.1,4,150,3.1\n0.1,4,300,5.3\n0.1,4,500,8\n0.1,4,650,9\n0.1,4,800,9.3\n0.1,4,1000,8.6\n0.1,4,1300,6.6\n0.1,4,1650,4.7\n0.1,4,2000,3.6", "format": {"type": "csv", "parse": {"x": "number", "y": "number"}}},
  "mark": {"type": "line", "strokeWidth": 1.1, "interpolate": "monotone"},
  "encoding": {"x": {"field": "x", "type": "quantitative", "scale": {"domain": [-2188, 2188], "nice": false, "zero": false}, "axis": {"values": [-2000, 0, 2000], "labelExpr": "datum.value == 0 ? 'TSS' : (datum.value < 0 ? '-2kb' : '2kb')", "title": null, "tickSize": 10, "labelPadding": 3, "labelFontSize": 13}},
   "y": {"field": "y", "type": "quantitative", "scale": {"domain": [-0.16, 37.73], "nice": false, "zero": false}, "axis": null},
   "color": {"field": "g", "type": "nominal", "scale": {"domain": ["100", "1", "0.1"], "range": ["#000000", "#ff0000", "#0000ff"]}, "legend": null},
   "detail": {"field": "r"}}}
]},
{"width": 159, "height": 230.3, "layer": [
 {"data": {"values": [{"t": "SMART"}]}, "mark": {"type": "rect", "fill": "#cccccc", "stroke": "#1a1a1a", "strokeWidth": 2},
  "encoding": {"x": {"datum": -2188, "type": "quantitative", "scale": {"domain": [-2188, 2188], "nice": false, "zero": false}, "axis": {"title": null}}, "x2": {"datum": 2188}, "y": {"datum": 37.73, "type": "quantitative", "scale": {"domain": [-0.16, 37.73], "nice": false, "zero": false}, "axis": null}, "y2": {"datum": 43.6}}},
 {"data": {"values": [{"t": "SMART"}]}, "mark": {"type": "text", "fontSize": 24, "baseline": "middle", "color": "#111"},
  "encoding": {"x": {"datum": 0, "type": "quantitative", "scale": {"domain": [-2188, 2188], "nice": false, "zero": false}, "axis": {"title": null}}, "y": {"datum": 40.56, "type": "quantitative", "scale": {"domain": [-0.16, 37.73], "nice": false, "zero": false}, "axis": null}, "text": {"field": "t"}}},
 {"data": {"values": "g,r,x,y\n1,1,-2000,1.6\n1,1,-1500,2.2\n1,1,-1000,4.4\n1,1,-700,7\n1,1,-500,9.1\n1,1,-380,10\n1,1,-280,11\n1,1,-190,10.2\n1,1,-100,8.8\n1,1,0,12.2\n1,1,120,16.2\n1,1,240,17.8\n1,1,370,16.7\n1,1,550,14.9\n1,1,800,11.8\n1,1,1100,8.2\n1,1,1500,5.1\n1,1,2000,3\n1,2,-2000,1.6\n1,2,-1500,2.2\n1,2,-1000,4.4\n1,2,-700,7\n1,2,-500,9.1\n1,2,-380,9.9\n1,2,-280,10.8\n1,2,-190,10\n1,2,-100,8.7\n1,2,0,11.9\n1,2,120,15.8\n1,2,240,17.3\n1,2,370,16.3\n1,2,550,14.7\n1,2,800,11.7\n1,2,1100,8.2\n1,2,1500,5.1\n1,2,2000,3\n1,3,-2000,1.6\n1,3,-1500,2.2\n1,3,-1000,4.4\n1,3,-700,7\n1,3,-500,9.1\n1,3,-380,9.8\n1,3,-280,10.6\n1,3,-190,9.8\n1,3,-100,8.6\n1,3,0,11.5\n1,3,120,15.1\n1,3,240,16.5\n1,3,370,15.7\n1,3,550,14.4\n1,3,800,11.6\n1,3,1100,8.2\n1,3,1500,5.1\n1,3,2000,3\n1,4,-2000,1.6\n1,4,-1500,2.2\n1,4,-1000,4.4\n1,4,-700,7\n1,4,-500,9.1\n1,4,-380,9.7\n1,4,-280,10.4\n1,4,-190,9.6\n1,4,-100,8.5\n1,4,0,11.2\n1,4,120,14.6\n1,4,240,15.9\n1,4,370,15.2\n1,4,550,14.1\n1,4,800,11.5\n1,4,1100,8.2\n1,4,1500,5.1\n1,4,2000,3\n0.1,1,-2000,1.6\n0.1,1,-1500,2.3\n0.1,1,-1000,4.5\n0.1,1,-700,7.2\n0.1,1,-500,9.4\n0.1,1,-380,10.8\n0.1,1,-280,12.5\n0.1,1,-190,11.6\n0.1,1,-100,10.1\n0.1,1,0,14\n0.1,1,120,19\n0.1,1,240,21\n0.1,1,370,19.5\n0.1,1,550,16.2\n0.1,1,800,12.2\n0.1,1,1100,8.3\n0.1,1,1500,5.1\n0.1,1,2000,3\n0.1,2,-2000,1.6\n0.1,2,-1500,2.3\n0.1,2,-1000,4.5\n0.1,2,-700,7.2\n0.1,2,-500,9.4\n0.1,2,-380,10.6\n0.1,2,-280,12.1\n0.1,2,-190,11.3\n0.1,2,-100,9.9\n0.1,2,0,13.6\n0.1,2,120,18.4\n0.1,2,240,20.3\n0.1,2,370,18.9\n0.1,2,550,16\n0.1,2,800,12.1\n0.1,2,1100,8.3\n0.1,2,1500,5.1\n0.1,2,2000,3\n0.1,3,-2000,1.6\n0.1,3,-1500,2.3\n0.1,3,-1000,4.5\n0.1,3,-700,7.2\n0.1,3,-500,9.4\n0.1,3,-380,10.4\n0.1,3,-280,11.8\n0.1,3,-190,11\n0.1,3,-100,9.7\n0.1,3,0,13.2\n0.1,3,120,17.7\n0.1,3,240,19.5\n0.1,3,370,18.2\n0.1,3,550,15.7\n0.1,3,800,12\n0.1,3,1100,8.3\n0.1,3,1500,5.1\n0.1,3,2000,3\n0.1,4,-2000,1.6\n0.1,4,-1500,2.3\n0.1,4,-1000,4.5\n0.1,4,-700,7.2\n0.1,4,-500,9.4\n0.1,4,-380,10.2\n0.1,4,-280,11.6\n0.1,4,-190,10.8\n0.1,4,-100,9.6\n0.1,4,0,12.7\n0.1,4,120,16.8\n0.1,4,240,18.4\n0.1,4,370,17.3\n0.1,4,550,15.2\n0.1,4,800,11.9\n0.1,4,1100,8.3\n0.1,4,1500,5.1\n0.1,4,2000,3", "format": {"type": "csv", "parse": {"x": "number", "y": "number"}}},
  "mark": {"type": "line", "strokeWidth": 1.1, "interpolate": "monotone"},
  "encoding": {"x": {"field": "x", "type": "quantitative", "scale": {"domain": [-2188, 2188], "nice": false, "zero": false}, "axis": {"values": [-2000, 0, 2000], "labelExpr": "datum.value == 0 ? 'TSS' : (datum.value < 0 ? '-2kb' : '2kb')", "title": null, "tickSize": 10, "labelPadding": 3, "labelFontSize": 13}},
   "y": {"field": "y", "type": "quantitative", "scale": {"domain": [-0.16, 37.73], "nice": false, "zero": false}, "axis": null},
   "color": {"field": "g", "type": "nominal", "scale": {"domain": ["100", "1", "0.1"], "range": ["#000000", "#ff0000", "#0000ff"]}, "legend": null},
   "detail": {"field": "r"}}}
]},
{"width": 159, "height": 230.3, "layer": [
 {"data": {"values": [{"t": "TELP"}]}, "mark": {"type": "rect", "fill": "#cccccc", "stroke": "#1a1a1a", "strokeWidth": 2},
  "encoding": {"x": {"datum": -2188, "type": "quantitative", "scale": {"domain": [-2188, 2188], "nice": false, "zero": false}, "axis": {"title": null}}, "x2": {"datum": 2188}, "y": {"datum": 37.73, "type": "quantitative", "scale": {"domain": [-0.16, 37.73], "nice": false, "zero": false}, "axis": null}, "y2": {"datum": 43.6}}},
 {"data": {"values": [{"t": "TELP"}]}, "mark": {"type": "text", "fontSize": 24, "baseline": "middle", "color": "#111"},
  "encoding": {"x": {"datum": 0, "type": "quantitative", "scale": {"domain": [-2188, 2188], "nice": false, "zero": false}, "axis": {"title": null}}, "y": {"datum": 40.56, "type": "quantitative", "scale": {"domain": [-0.16, 37.73], "nice": false, "zero": false}, "axis": null}, "text": {"field": "t"}}},
 {"data": {"values": "g,r,x,y\n1,1,-2000,1.5\n1,1,-1500,2.4\n1,1,-1000,4.5\n1,1,-700,6.5\n1,1,-500,8.2\n1,1,-400,8.9\n1,1,-310,9.6\n1,1,-200,8.8\n1,1,-85,6.9\n1,1,0,9.2\n1,1,120,13\n1,1,240,15\n1,1,360,15.4\n1,1,480,15\n1,1,650,13.3\n1,1,900,11.1\n1,1,1200,8\n1,1,1600,4.9\n1,1,2000,3\n1,2,-2000,1.5\n1,2,-1500,2.4\n1,2,-1000,4.5\n1,2,-700,6.5\n1,2,-500,8.2\n1,2,-400,8.8\n1,2,-310,9.4\n1,2,-200,8.6\n1,2,-85,6.7\n1,2,0,8.9\n1,2,120,12.3\n1,2,240,14.1\n1,2,360,14.5\n1,2,480,14.2\n1,2,650,12.8\n1,2,900,10.9\n1,2,1200,8\n1,2,1600,4.9\n1,2,2000,3\n1,3,-2000,1.5\n1,3,-1500,2.4\n1,3,-1000,4.5\n1,3,-700,6.5\n1,3,-500,8.2\n1,3,-400,8.7\n1,3,-310,9.3\n1,3,-200,8.5\n1,3,-85,6.6\n1,3,0,8.6\n1,3,120,11.7\n1,3,240,13.4\n1,3,360,13.7\n1,3,480,13.5\n1,3,650,12.3\n1,3,900,10.7\n1,3,1200,8\n1,3,1600,4.9\n1,3,2000,3\n1,4,-2000,1.5\n1,4,-1500,2.4\n1,4,-1000,4.5\n1,4,-700,6.5\n1,4,-500,8.2\n1,4,-400,8.6\n1,4,-310,9.2\n1,4,-200,8.4\n1,4,-85,6.5\n1,4,0,8.3\n1,4,120,11.1\n1,4,240,12.6\n1,4,360,12.9\n1,4,480,12.8\n1,4,650,11.8\n1,4,900,10.5\n1,4,1200,8\n1,4,1600,4.9\n1,4,2000,3\n0.1,1,-2000,1.5\n0.1,1,-1500,2.4\n0.1,1,-1000,4.6\n0.1,1,-700,6.7\n0.1,1,-500,8.5\n0.1,1,-400,9.6\n0.1,1,-310,10.8\n0.1,1,-200,10\n0.1,1,-85,8\n0.1,1,0,10.5\n0.1,1,120,14.6\n0.1,1,240,16.8\n0.1,1,360,17.2\n0.1,1,480,16.7\n0.1,1,650,14.5\n0.1,1,900,11.7\n0.1,1,1200,8.2\n0.1,1,1600,5\n0.1,1,2000,3\n0.1,2,-2000,1.5\n0.1,2,-1500,2.4\n0.1,2,-1000,4.6\n0.1,2,-700,6.7\n0.1,2,-500,8.5\n0.1,2,-400,9.5\n0.1,2,-310,10.6\n0.1,2,-200,9.8\n0.1,2,-85,7.9\n0.1,2,0,10.3\n0.1,2,120,14.2\n0.1,2,240,16.3\n0.1,2,360,16.7\n0.1,2,480,16.3\n0.1,2,650,14.2\n0.1,2,900,11.6\n0.1,2,1200,8.2\n0.1,2,1600,5\n0.1,2,2000,3\n0.1,3,-2000,1.5\n0.1,3,-1500,2.4\n0.1,3,-1000,4.6\n0.1,3,-700,6.7\n0.1,3,-500,8.5\n0.1,3,-400,9.4\n0.1,3,-310,10.5\n0.1,3,-200,9.7\n0.1,3,-85,7.8\n0.1,3,0,10.1\n0.1,3,120,13.8\n0.1,3,240,15.8\n0.1,3,360,16.2\n0.1,3,480,15.8\n0.1,3,650,13.9\n0.1,3,900,11.5\n0.1,3,1200,8.2\n0.1,3,1600,5\n0.1,3,2000,3\n0.1,4,-2000,1.5\n0.1,4,-1500,2.4\n0.1,4,-1000,4.6\n0.1,4,-700,6.7\n0.1,4,-500,8.5\n0.1,4,-400,9.3\n0.1,4,-310,10.4\n0.1,4,-200,9.6\n0.1,4,-85,7.7\n0.1,4,0,9.9\n0.1,4,120,13.4\n0.1,4,240,15.2\n0.1,4,360,15.6\n0.1,4,480,15.3\n0.1,4,650,13.6\n0.1,4,900,11.3\n0.1,4,1200,8.2\n0.1,4,1600,5\n0.1,4,2000,3", "format": {"type": "csv", "parse": {"x": "number", "y": "number"}}},
  "mark": {"type": "line", "strokeWidth": 1.1, "interpolate": "monotone"},
  "encoding": {"x": {"field": "x", "type": "quantitative", "scale": {"domain": [-2188, 2188], "nice": false, "zero": false}, "axis": {"values": [-2000, 0, 2000], "labelExpr": "datum.value == 0 ? 'TSS' : (datum.value < 0 ? '-2kb' : '2kb')", "title": null, "tickSize": 10, "labelPadding": 3, "labelFontSize": 13}},
   "y": {"field": "y", "type": "quantitative", "scale": {"domain": [-0.16, 37.73], "nice": false, "zero": false}, "axis": null},
   "color": {"field": "g", "type": "nominal", "scale": {"domain": ["100", "1", "0.1"], "range": ["#000000", "#ff0000", "#0000ff"]}, "legend": null},
   "detail": {"field": "r"}}}
]},
{"width": 159, "height": 230.3, "layer": [
 {"data": {"values": [{"t": "ThruPLEX"}]}, "mark": {"type": "rect", "fill": "#cccccc", "stroke": "#1a1a1a", "strokeWidth": 2},
  "encoding": {"x": {"datum": -2188, "type": "quantitative", "scale": {"domain": [-2188, 2188], "nice": false, "zero": false}, "axis": {"title": null}}, "x2": {"datum": 2188}, "y": {"datum": 37.73, "type": "quantitative", "scale": {"domain": [-0.16, 37.73], "nice": false, "zero": false}, "axis": null}, "y2": {"datum": 43.6}}},
 {"data": {"values": [{"t": "ThruPLEX"}]}, "mark": {"type": "text", "fontSize": 24, "baseline": "middle", "color": "#111"},
  "encoding": {"x": {"datum": 0, "type": "quantitative", "scale": {"domain": [-2188, 2188], "nice": false, "zero": false}, "axis": {"title": null}}, "y": {"datum": 40.56, "type": "quantitative", "scale": {"domain": [-0.16, 37.73], "nice": false, "zero": false}, "axis": null}, "text": {"field": "t"}}},
 {"data": {"values": "g,r,x,y\n1,1,-2000,1.8\n1,1,-1500,2.5\n1,1,-1000,4.6\n1,1,-700,7.2\n1,1,-500,9.9\n1,1,-380,12.3\n1,1,-280,15.6\n1,1,-190,14.9\n1,1,-100,13.4\n1,1,0,17.8\n1,1,120,23\n1,1,240,25.8\n1,1,370,24\n1,1,550,20.7\n1,1,800,16.5\n1,1,1100,11.8\n1,1,1500,7.3\n1,1,2000,3\n1,2,-2000,1.8\n1,2,-1500,2.5\n1,2,-1000,4.6\n1,2,-700,7.2\n1,2,-500,9.9\n1,2,-380,12.2\n1,2,-280,15.5\n1,2,-190,14.8\n1,2,-100,13.2\n1,2,0,17.5\n1,2,120,22.5\n1,2,240,25.2\n1,2,370,23.6\n1,2,550,20.5\n1,2,800,16.4\n1,2,1100,11.8\n1,2,1500,7.3\n1,2,2000,3\n1,3,-2000,1.8\n1,3,-1500,2.5\n1,3,-1000,4.6\n1,3,-700,7.2\n1,3,-500,9.9\n1,3,-380,12.2\n1,3,-280,15.4\n1,3,-190,14.6\n1,3,-100,13\n1,3,0,17.2\n1,3,120,22.1\n1,3,240,24.8\n1,3,370,23.3\n1,3,550,20.3\n1,3,800,16.4\n1,3,1100,11.8\n1,3,1500,7.3\n1,3,2000,3\n1,4,-2000,1.8\n1,4,-1500,2.5\n1,4,-1000,4.6\n1,4,-700,7.2\n1,4,-500,9.9\n1,4,-380,12.1\n1,4,-280,15.3\n1,4,-190,14.5\n1,4,-100,12.9\n1,4,0,17\n1,4,120,21.8\n1,4,240,24.4\n1,4,370,23\n1,4,550,20.1\n1,4,800,16.3\n1,4,1100,11.8\n1,4,1500,7.3\n1,4,2000,3\n0.1,1,-2000,1.8\n0.1,1,-1500,2.5\n0.1,1,-1000,4.7\n0.1,1,-700,7.4\n0.1,1,-500,10.6\n0.1,1,-380,13.8\n0.1,1,-280,18.8\n0.1,1,-190,18\n0.1,1,-100,16.2\n0.1,1,0,23\n0.1,1,120,31.5\n0.1,1,240,35.9\n0.1,1,370,32\n0.1,1,550,25\n0.1,1,800,18\n0.1,1,1100,12.2\n0.1,1,1500,7.2\n0.1,1,2000,2.9\n0.1,2,-2000,1.8\n0.1,2,-1500,2.5\n0.1,2,-1000,4.7\n0.1,2,-700,7.4\n0.1,2,-500,10.6\n0.1,2,-380,13.7\n0.1,2,-280,18.6\n0.1,2,-190,17.8\n0.1,2,-100,16\n0.1,2,0,22.7\n0.1,2,120,31\n0.1,2,240,35.4\n0.1,2,370,31.6\n0.1,2,550,24.8\n0.1,2,800,17.9\n0.1,2,1100,12.2\n0.1,2,1500,7.2\n0.1,2,2000,2.9\n0.1,3,-2000,1.8\n0.1,3,-1500,2.5\n0.1,3,-1000,4.7\n0.1,3,-700,7.4\n0.1,3,-500,10.6\n0.1,3,-380,13.3\n0.1,3,-280,17.9\n0.1,3,-190,17.1\n0.1,3,-100,15.5\n0.1,3,0,21.3\n0.1,3,120,28.5\n0.1,3,240,32.1\n0.1,3,370,29\n0.1,3,550,23.6\n0.1,3,800,17.6\n0.1,3,1100,12.2\n0.1,3,1500,7.2\n0.1,3,2000,2.9\n0.1,4,-2000,1.8\n0.1,4,-1500,2.5\n0.1,4,-1000,4.7\n0.1,4,-700,7.4\n0.1,4,-500,10.6\n0.1,4,-380,13.2\n0.1,4,-280,17.7\n0.1,4,-190,16.9\n0.1,4,-100,15.3\n0.1,4,0,21\n0.1,4,120,28.1\n0.1,4,240,31.7\n0.1,4,370,28.7\n0.1,4,550,23.4\n0.1,4,800,17.5\n0.1,4,1100,12.2\n0.1,4,1500,7.2\n0.1,4,2000,2.9", "format": {"type": "csv", "parse": {"x": "number", "y": "number"}}},
  "mark": {"type": "line", "strokeWidth": 1.1, "interpolate": "monotone"},
  "encoding": {"x": {"field": "x", "type": "quantitative", "scale": {"domain": [-2188, 2188], "nice": false, "zero": false}, "axis": {"values": [-2000, 0, 2000], "labelExpr": "datum.value == 0 ? 'TSS' : (datum.value < 0 ? '-2kb' : '2kb')", "title": null, "tickSize": 10, "labelPadding": 3, "labelFontSize": 13}},
   "y": {"field": "y", "type": "quantitative", "scale": {"domain": [-0.16, 37.73], "nice": false, "zero": false}, "axis": null},
   "color": {"field": "g", "type": "nominal", "scale": {"domain": ["100", "1", "0.1"], "range": ["#000000", "#ff0000", "#0000ff"]}, "legend": null},
   "detail": {"field": "r"}}}
]}
]
}
],
"config": {
 "font": "Liberation Sans",
 "view": {"stroke": "#1a1a1a", "strokeWidth": 2},
 "axis": {"grid": false, "domain": false, "tickColor": "#555555", "tickWidth": 1, "labelFontSize": 15, "labelColor": "#1a1a1a", "titleFontSize": 20, "titleFontWeight": "normal", "titleColor": "#1a1a1a", "labelFlush": false, "labelOverlap": false},
 "legend": {"labelFontSize": 15, "labelColor": "#1a1a1a", "padding": 0, "layout": {"top-left": {"direction": "vertical", "margin": 2, "anchor": "start"}, "direction": "vertical", "margin": 2}}
}
}
